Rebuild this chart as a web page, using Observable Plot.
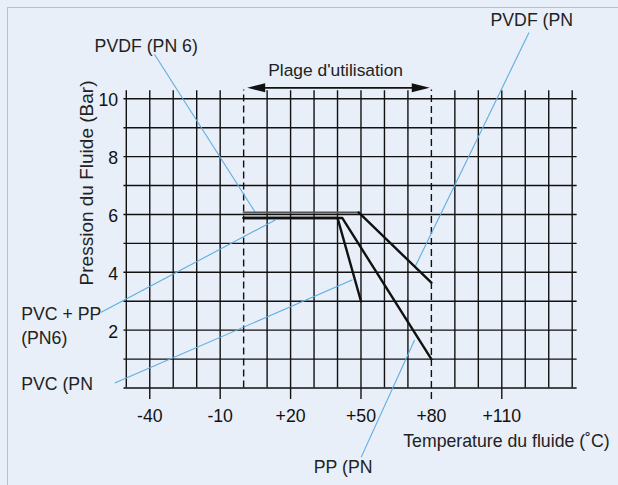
<!DOCTYPE html>
<html><head><meta charset="utf-8">
<script src="https://cdn.jsdelivr.net/npm/d3@7"></script>
<script src="https://cdn.jsdelivr.net/npm/@observablehq/plot@0.6"></script>
<style>
html,body{margin:0;padding:0;background:#e8eff8;}
#wrap{position:relative;width:618px;height:485px;overflow:hidden;background:#e8eff8;}
#frame{position:absolute;left:7px;top:7px;width:700px;height:600px;border-top:1.5px solid #9ccaea;border-left:1.5px solid #9ccaea;}
#chart{position:absolute;left:0;top:0;}
</style></head><body><div id="wrap"><div id="frame"></div><div id="chart"></div></div>
<script>
// Grid & ticks
const solidGridTemps = [-50,-40,-30,-20,-10,10,20,30,40,50,60,70,90,100,110,120,130,140];
const usageLimits = [0, 80];
const pressureLines = [0,1,2,3,4,5,6,7,8,9,10];
const tickTemps = [-40,-10,20,50,80,110];
const tickLabels = ["-40","-10","+20","+50","+80","+110"];
const pressureTicks = [2,4,6,8,10];
const pressureTickLabels = ["2","4","6","8","10"];

// Series
const pvdfFlatTemp = [0, 49];
const pvdfFlatPres = [6.07, 6.07];
const pvdfDropTemp = [49, 80];
const pvdfDropPres = [6.07, 3.64];
const pvcTemp = [0, 40, 50];
const pvcPres = [5.88, 5.88, 3.0];
const ppTemp = [0, 42, 80];
const ppPres = [5.88, 5.88, 1.0];

// Annotations
const labels = ["PVDF (PN 6)", "PVDF (PN", "PVC + PP", "(PN6)", "PVC (PN", "PP (PN"];
const labelTemp = [-63.5, 105.2, -94.8, -94.8, -94.8, 29.9];
const labelPres = [11.82, 12.72, 2.56, 1.73, 0.13, -2.76];
const leaderT1 = [-38, 121.6, -60.7, -54.9, 50.1];
const leaderP1 = [11.54, 12.29, 2.62, 0.17, -2.39];
const leaderT2 = [5, 73.1, 13.5, 46.4, 72.85];
const leaderP2 = [6.07, 4.2, 5.81, 3.74, 1.66];
const rangeTitle = "Plage d'utilisation";
const arrowTips = [1.5, 79.3];
const xTitle = "Temperature du fluide (˚C)";
const yTitle = "Pression du Fluide (Bar)";

const pts = (xs, ys) => xs.map((x, i) => ({x, y: ys[i]}));
const arrowRight = {draw(ctx){ctx.moveTo(0,0);ctx.lineTo(-18,-4.5);ctx.lineTo(-18,4.5);ctx.closePath();}};
const arrowLeft = {draw(ctx){ctx.moveTo(0,0);ctx.lineTo(18,-4.5);ctx.lineTo(18,4.5);ctx.closePath();}};
const leaders = leaderT1.map((t, i) => ({x1: t, y1: leaderP1[i], x2: leaderT2[i], y2: leaderP2[i]}));
const labelData = labels.map((s, i) => ({s, x: labelTemp[i], y: labelPres[i]}));

const ink = "#111";
const blue = "#5eaee0";
const fs = 17.7;
const chart = Plot.plot({
  width: 618, height: 485,
  marginLeft: 125.8, marginRight: 46.3, marginTop: 98.3, marginBottom: 97.5,
  x: {domain: [-50, 140], axis: null},
  y: {domain: [0, 10], axis: null},
  style: {background: "transparent", overflow: "visible", fontFamily: "'Liberation Sans', Arial, sans-serif"},
  marks: [
    Plot.ruleY(pressureLines, {y: d => d, x1: -51, x2: 142.1, stroke: ink, strokeWidth: 1.4}),
    Plot.ruleX(solidGridTemps, {x: d => d, y1: 0, y2: 10.28, stroke: ink, strokeWidth: 1.4}),
    Plot.ruleX(usageLimits, {x: d => d, y1: d => d === 80 ? -0.4 : 0, y2: 10.3, stroke: ink, strokeWidth: 1.4, strokeDasharray: "7,4"}),
    Plot.ruleX(tickTemps.filter(t => t !== 80), {x: d => d, y1: -0.4, y2: 0, stroke: ink, strokeWidth: 1.4}),
    Plot.text(tickTemps, {x: d => d, y: -0.985, text: (d, i) => tickLabels[i], fontSize: fs, fill: ink}),
    Plot.text(pressureTicks, {x: -53.5, y: d => d, dy: 2, text: (d, i) => pressureTickLabels[i], textAnchor: "end", fontSize: fs, fill: ink}),
    // leaders
    Plot.link(leaders, {x1: "x1", y1: "y1", x2: "x2", y2: "y2", stroke: blue, strokeWidth: 1.1}),
    // data
    Plot.line(pts(pvdfFlatTemp, pvdfFlatPres), {x: "x", y: "y", stroke: "#555", strokeWidth: 2}),
    Plot.line(pts(pvdfDropTemp, pvdfDropPres), {x: "x", y: "y", stroke: ink, strokeWidth: 2.4}),
    Plot.line(pts(pvcTemp, pvcPres), {x: "x", y: "y", stroke: ink, strokeWidth: 2.4}),
    Plot.line(pts(ppTemp, ppPres), {x: "x", y: "y", stroke: ink, strokeWidth: 2.4}),
    // range arrow
    Plot.link([0], {x1: arrowTips[0] + 3, x2: arrowTips[1] - 3, y1: 10.38, y2: 10.38, stroke: ink, strokeWidth: 1.8}),
    Plot.dot([arrowTips[1]], {x: d => d, y: 10.38, symbol: arrowRight, r: 3, fill: ink, stroke: "none"}),
    Plot.dot([arrowTips[0]], {x: d => d, y: 10.38, symbol: arrowLeft, r: 3, fill: ink, stroke: "none"}),
    Plot.text([rangeTitle], {x: 39.2, y: 10.97, text: d => d, fontSize: 17.4, fill: "#222"}),
    // labels
    Plot.text(labelData, {x: "x", y: "y", text: "s", textAnchor: "start", fontSize: fs, fill: "#222"}),
    Plot.text([xTitle], {x: 68.0, y: -1.85, text: d => d, textAnchor: "start", fontSize: fs, fill: "#222"}),
    Plot.text([yTitle], {x: -66.7, y: 7.09, text: d => d, rotate: -90, fontSize: 19, fill: "#222"})
  ]
});
document.getElementById("chart").appendChild(chart);
</script>
</body></html>
